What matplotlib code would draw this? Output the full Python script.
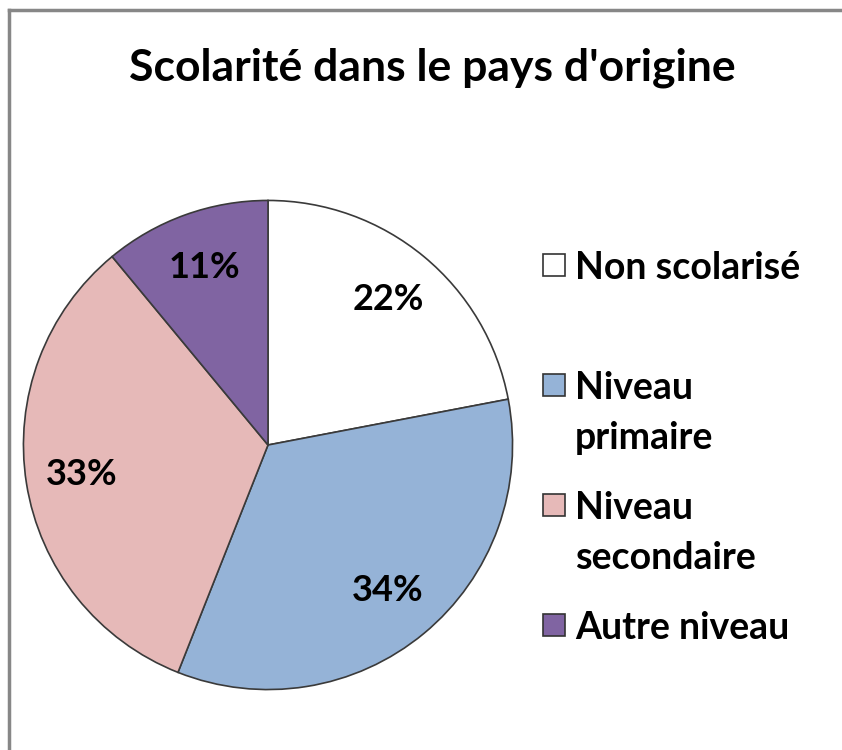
import matplotlib
matplotlib.use("Agg")
import matplotlib.pyplot as plt
from matplotlib.patches import Rectangle
from matplotlib.lines import Line2D

title = "Scolarité dans le pays d'origine"
categories = ["Non scolarisé", "Niveau primaire", "Niveau secondaire", "Autre niveau"]
legend_lines = [["Non scolarisé"], ["Niveau", "primaire"], ["Niveau", "secondaire"], ["Autre niveau"]]
values = [22, 34, 33, 11]
colors = ["#FFFFFF", "#95B3D7", "#E6B9B8", "#8064A2"]

plt.rcParams['font.family'] = ['Lato', 'DejaVu Sans']

W, H = 842, 750
fig = plt.figure(figsize=(W / 100, H / 100), dpi=100)
fig.patch.set_facecolor("white")

# frame
fig.add_artist(Line2D([9 / W, 9 / W], [0, 1 - 10 / H], color="#878787", lw=2.5, transform=fig.transFigure))
fig.add_artist(Line2D([9 / W, 1], [1 - 10 / H, 1 - 10 / H], color="#878787", lw=2.5, transform=fig.transFigure))

cx, cy, R = 268, 445, 247
ax = fig.add_axes([(cx - R) / W, (H - cy - R) / H, 2 * R / W, 2 * R / H])
wedges, texts, autotexts = ax.pie(
    values, colors=colors, startangle=90, counterclock=False, radius=1,
    autopct=lambda p: f"{p:.0f}%", pctdistance=0.77,
    wedgeprops=dict(edgecolor="#3a3a3a", linewidth=1.2),
    textprops=dict(fontsize=26, fontweight="bold", color="black"),
)
ax.set_xlim(-1.01, 1.01)
ax.set_ylim(-1.01, 1.01)
ax.set_aspect("equal")
ax.axis("off")

fig.text(432 / W, 1 - 68 / H, title, ha="center", va="center", fontsize=32, fontweight="bold")

# legend
ys = [265, 385, 505, 625]
for lines, col, y in zip(legend_lines, colors, ys):
    fig.add_artist(Rectangle((543 / W, 1 - (y + 11) / H), 22 / W, 22 / H,
                             facecolor=col, edgecolor="#333333", lw=1.2, transform=fig.transFigure))
    for i, ln in enumerate(lines):
        fig.text(575 / W, 1 - (y + 50 * i) / H, ln, ha="left", va="center_baseline", fontsize=27,
                 fontweight="bold")

fig.savefig("out.png", dpi=100)
